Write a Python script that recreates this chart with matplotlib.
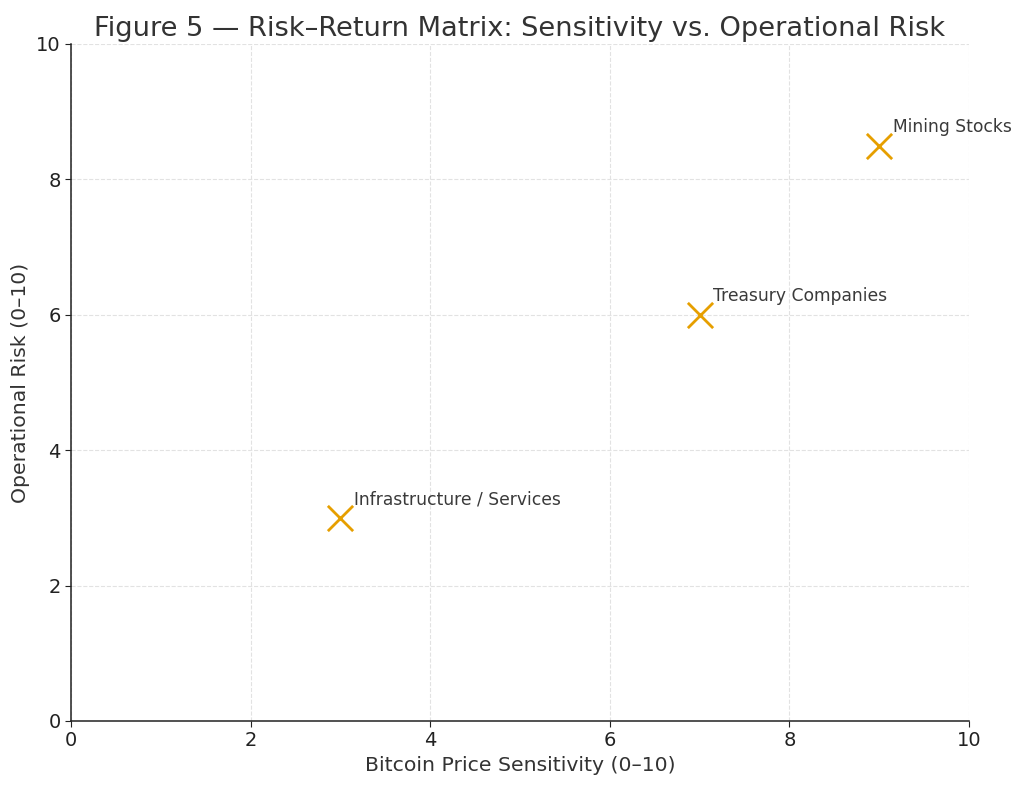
import matplotlib
matplotlib.use("Agg")
import matplotlib.pyplot as plt

# segment scores (0-10)
segments = ["Infrastructure / Services", "Treasury Companies", "Mining Stocks"]
sensitivity = [3, 7, 9]
op_risk = [3, 6, 8.5]

fig = plt.figure(figsize=(10.24, 7.87), dpi=100)
ax = fig.add_axes([0.0693, 0.0839, 0.877, 0.8602])

ax.scatter(sensitivity, op_risk, marker="x", s=330, linewidths=2.0, color="#E69F00", zorder=3)
for name, x, y in zip(segments, sensitivity, op_risk):
    ax.annotate(name, (x, y), xytext=(10, 7), textcoords="offset points",
                fontsize=12.3, color="#3a3a3a", va="bottom", ha="left")

ax.set_xlim(0, 10)
ax.set_ylim(0, 10)
ax.set_title("Figure 5 \u2014 Risk\u2013Return Matrix: Sensitivity vs. Operational Risk",
             fontsize=19.6, color="#333333", pad=6)
ax.set_xlabel("Bitcoin Price Sensitivity (0\u201310)", fontsize=14.7, color="#333333")
ax.set_ylabel("Operational Risk (0\u201310)", fontsize=14.7, color="#333333")
ax.tick_params(labelsize=14, colors="#222222", length=4)
ax.grid(True, linestyle="--", color="#e2e2e2", linewidth=0.8)
ax.set_axisbelow(True)
for side in ("top", "right"):
    ax.spines[side].set_visible(False)
for side in ("left", "bottom"):
    ax.spines[side].set_color("#222222")
    ax.spines[side].set_linewidth(1.1)

fig.savefig("out.png", dpi=100)
